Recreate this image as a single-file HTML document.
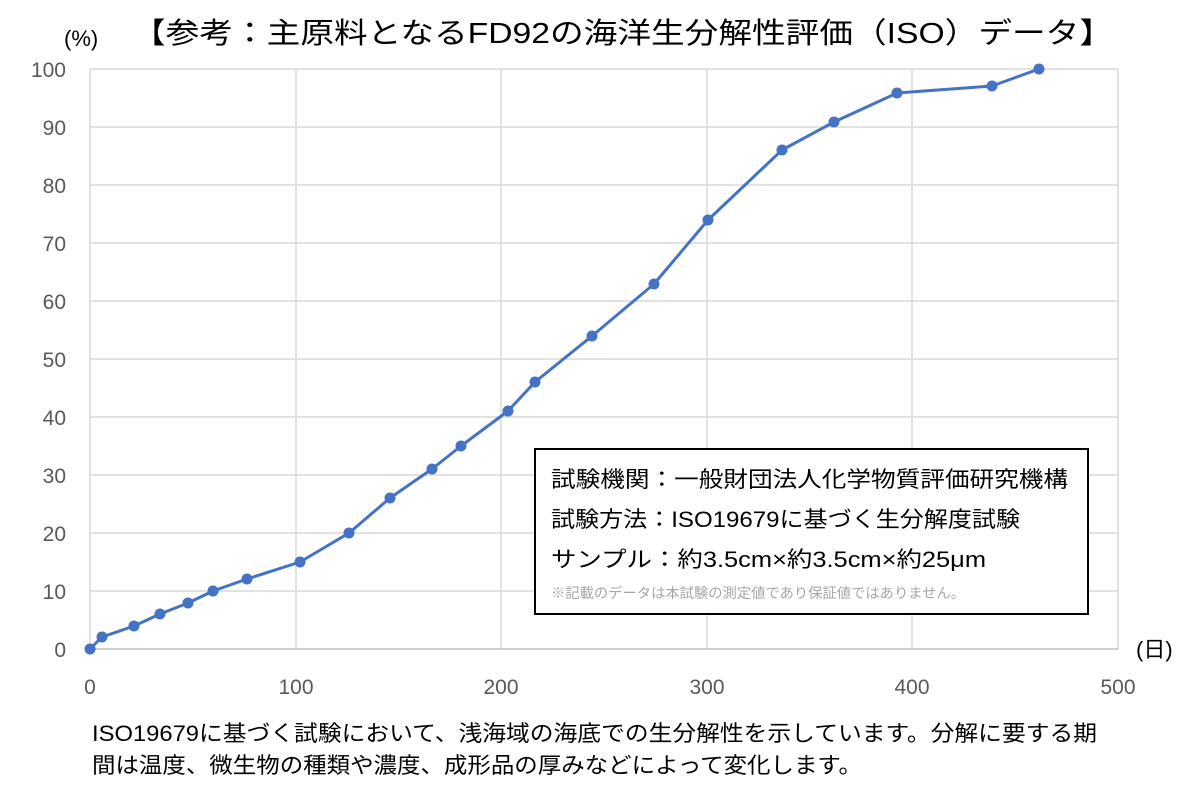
<!DOCTYPE html>
<html><head><meta charset="utf-8"><style>
html,body{margin:0;padding:0;background:#fff;}
svg{display:block;font-family:"Liberation Sans","Noto Sans CJK JP",sans-serif;}
</style></head><body>
<svg width="1200" height="798" viewBox="0 0 1200 798" xmlns="http://www.w3.org/2000/svg">
<rect width="1200" height="798" fill="#fff"/>
<g stroke="#d9d9d9" stroke-width="1.5">
<line x1="90" y1="69" x2="1118" y2="69"/><line x1="90" y1="127" x2="1118" y2="127"/>
<line x1="90" y1="185" x2="1118" y2="185"/><line x1="90" y1="243" x2="1118" y2="243"/>
<line x1="90" y1="301" x2="1118" y2="301"/><line x1="90" y1="359" x2="1118" y2="359"/>
<line x1="90" y1="417" x2="1118" y2="417"/><line x1="90" y1="475" x2="1118" y2="475"/>
<line x1="90" y1="533" x2="1118" y2="533"/><line x1="90" y1="591" x2="1118" y2="591"/>
<line x1="296" y1="69" x2="296" y2="649"/><line x1="501" y1="69" x2="501" y2="649"/>
<line x1="707" y1="69" x2="707" y2="649"/><line x1="912" y1="69" x2="912" y2="649"/>
<line x1="1118" y1="69" x2="1118" y2="649"/>
<line x1="90" y1="69" x2="90" y2="649"/>
</g>
<line x1="90" y1="649" x2="1118" y2="649" stroke="#bfbfbf" stroke-width="1.5"/>
<g font-size="21" fill="#595959" text-anchor="end">
<text x="66" y="77">100</text><text x="66" y="135">90</text><text x="66" y="193">80</text>
<text x="66" y="251">70</text><text x="66" y="309">60</text><text x="66" y="367">50</text>
<text x="66" y="425">40</text><text x="66" y="483">30</text><text x="66" y="541">20</text>
<text x="66" y="599">10</text><text x="66" y="657">0</text>
</g>
<g font-size="21" fill="#595959" text-anchor="middle">
<text x="90" y="694">0</text><text x="296" y="694">100</text><text x="501" y="694">200</text>
<text x="707" y="694">300</text><text x="912" y="694">400</text><text x="1118" y="694">500</text>
</g>
<text x="64" y="46" font-size="22" fill="#000">(%)</text>
<text x="1136" y="657" font-size="22" fill="#000">(日)</text>
<text x="132" y="43" font-size="29" fill="#000" textLength="981" lengthAdjust="spacingAndGlyphs">【参考：主原料となるFD92の海洋生分解性評価（ISO）データ】</text>
<polyline fill="none" stroke="#4472c4" stroke-width="3" stroke-linejoin="round" points="90,649 102,637 134,626 160,614 188,603 213,591 247,579 300,562 349,533 390,498 432,469 461,446 508,411 535,382 592,336 654,284 708,220 782,150 834,122 897,93 992,86 1039,69"/>
<g fill="#4472c4">
<circle cx="90" cy="649" r="5.5"/><circle cx="102" cy="637" r="5.5"/><circle cx="134" cy="626" r="5.5"/>
<circle cx="160" cy="614" r="5.5"/><circle cx="188" cy="603" r="5.5"/><circle cx="213" cy="591" r="5.5"/>
<circle cx="247" cy="579" r="5.5"/><circle cx="300" cy="562" r="5.5"/><circle cx="349" cy="533" r="5.5"/>
<circle cx="390" cy="498" r="5.5"/><circle cx="432" cy="469" r="5.5"/><circle cx="461" cy="446" r="5.5"/>
<circle cx="508" cy="411" r="5.5"/><circle cx="535" cy="382" r="5.5"/><circle cx="592" cy="336" r="5.5"/>
<circle cx="654" cy="284" r="5.5"/><circle cx="708" cy="220" r="5.5"/><circle cx="782" cy="150" r="5.5"/>
<circle cx="834" cy="122" r="5.5"/><circle cx="897" cy="93" r="5.5"/><circle cx="992" cy="86" r="5.5"/>
<circle cx="1039" cy="69" r="5.5"/>
</g>
<rect x="535" y="449" width="553" height="165" fill="#fff" stroke="#000" stroke-width="2"/>
<g font-size="22" fill="#000" lengthAdjust="spacingAndGlyphs">
<text x="551" y="487" textLength="517" lengthAdjust="spacingAndGlyphs">試験機関：一般財団法人化学物質評価研究機構</text>
<text x="551" y="527" textLength="469" lengthAdjust="spacingAndGlyphs">試験方法：ISO19679に基づく生分解度試験</text>
<text x="551" y="567" textLength="435" lengthAdjust="spacingAndGlyphs">サンプル：約3.5cm×約3.5cm×約25μm</text>
</g>
<text x="551" y="598" font-size="14" fill="#a6a6a6" textLength="414" lengthAdjust="spacingAndGlyphs">※記載のデータは本試験の測定値であり保証値ではありません。</text>
<g font-size="22" fill="#000">
<text x="92" y="741" textLength="1005" lengthAdjust="spacingAndGlyphs">ISO19679に基づく試験において、浅海域の海底での生分解性を示しています。分解に要する期</text>
<text x="92" y="773" textLength="770" lengthAdjust="spacingAndGlyphs">間は温度、微生物の種類や濃度、成形品の厚みなどによって変化します。</text>
</g>
</svg>
</body></html>
